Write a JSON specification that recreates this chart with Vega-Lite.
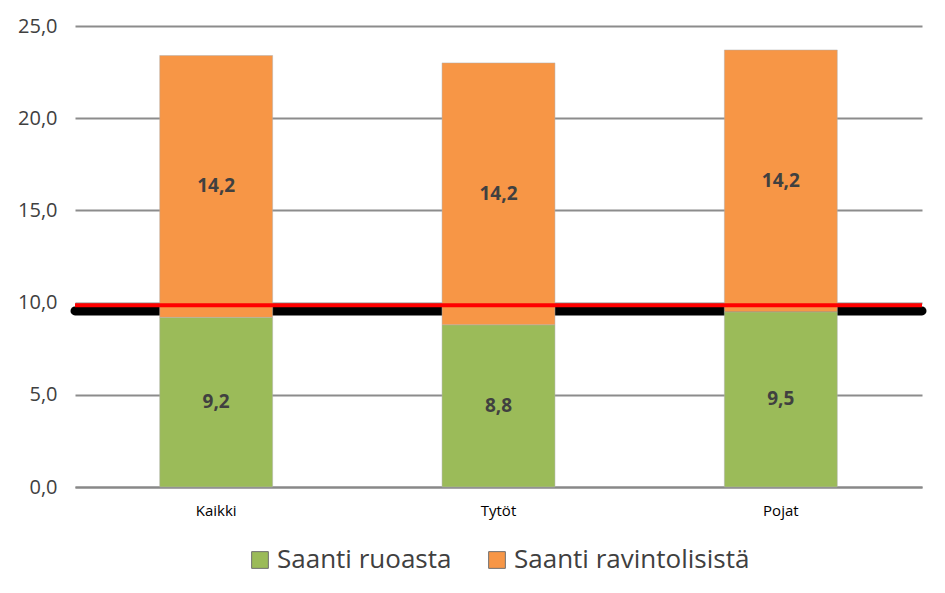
{
  "$schema": "https://vega.github.io/schema/vega-lite/v6.json",
  "width": 945,
  "height": 593,
  "autosize": {"type": "fit", "contains": "padding"},
  "padding": {"left": 17, "top": 16, "right": 18, "bottom": 20},
  "background": "white",
  "config": {
    "view": {"stroke": null},
    "locale": {"number": {"decimal": ",", "thousands": " ", "grouping": [3], "currency": ["", " €"]}},
    "font": "Open Sans",
    "legend": {"layout": {"bottom": {"anchor": "middle"}}}
  },
  "datasets": {
    "bars": [
      {"ryhma": "Kaikki", "lahde": "Saanti ruoasta", "arvo": 9.2, "jarj": 1},
      {"ryhma": "Kaikki", "lahde": "Saanti ravintolisistä", "arvo": 14.2, "jarj": 2},
      {"ryhma": "Tytöt", "lahde": "Saanti ruoasta", "arvo": 8.8, "jarj": 1},
      {"ryhma": "Tytöt", "lahde": "Saanti ravintolisistä", "arvo": 14.2, "jarj": 2},
      {"ryhma": "Pojat", "lahde": "Saanti ruoasta", "arvo": 9.5, "jarj": 1},
      {"ryhma": "Pojat", "lahde": "Saanti ravintolisistä", "arvo": 14.2, "jarj": 2}
    ],
    "black": [{"raja": 9.55}],
    "red": [{"raja": 9.85}]
  },
  "layer": [
    {
      "data": {"name": "black"},
      "mark": {"type": "rule", "color": "black", "strokeWidth": 9, "strokeCap": "round"},
      "encoding": {"y": {"field": "raja", "type": "quantitative"}}
    },
    {
      "data": {"name": "bars"},
      "mark": {"type": "bar", "stroke": "#b0b0b0", "strokeWidth": 0.5},
      "encoding": {
        "x": {
          "field": "ryhma", "type": "nominal", "sort": ["Kaikki", "Tytöt", "Pojat"],
          "scale": {"paddingInner": 0.6, "paddingOuter": 0.3},
          "axis": {"title": null, "labelAngle": 0, "ticks": false, "domain": true, "domainColor": "#888888", "domainWidth": 2, "labelFontSize": 15, "labelColor": "#000000", "labelFont": "Open Sans", "labelPadding": 16}
        },
        "y": {
          "field": "arvo", "type": "quantitative", "stack": "zero",
          "scale": {"domain": [0, 25], "nice": false},
          "axis": {"title": null, "values": [0, 5, 10, 15, 20, 25], "format": ".1f", "domain": false, "ticks": false, "gridColor": "#8c8c8c", "gridWidth": 2, "labelFontSize": 20, "labelColor": "#404040", "labelPadding": 18}
        },
        "color": {
          "field": "lahde", "type": "nominal",
          "scale": {"domain": ["Saanti ruoasta", "Saanti ravintolisistä"], "range": ["#9bbb59", "#f79646"]},
          "legend": {"title": null, "orient": "bottom", "direction": "horizontal", "symbolType": "square", "symbolSize": 280, "symbolStrokeColor": "#707070", "symbolStrokeWidth": 1, "labelFontSize": 26, "labelColor": "#404040", "labelFont": "Open Sans", "columnPadding": 32, "offset": 29, "labelLimit": 400}
        },
        "order": {"field": "jarj", "type": "quantitative"}
      }
    },
    {
      "data": {"name": "bars"},
      "mark": {"type": "text", "fontSize": 19, "fontWeight": "bold", "color": "#404040", "baseline": "middle"},
      "encoding": {
        "x": {"field": "ryhma", "type": "nominal", "sort": ["Kaikki", "Tytöt", "Pojat"]},
        "y": {"field": "arvo", "type": "quantitative", "stack": "zero", "bandPosition": 0.5},
        "text": {"field": "arvo", "type": "quantitative", "format": ".1f"},
        "order": {"field": "jarj", "type": "quantitative"}
      }
    },
    {
      "data": {"name": "red"},
      "mark": {"type": "rule", "color": "#ff0000", "strokeWidth": 4},
      "encoding": {"y": {"field": "raja", "type": "quantitative"}}
    }
  ]
}
